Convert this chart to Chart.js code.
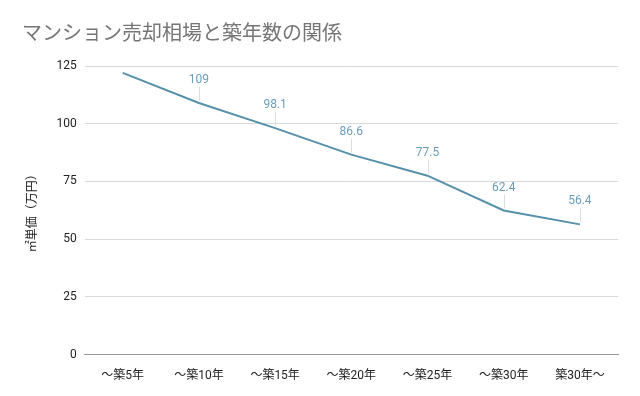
<!DOCTYPE html>
<html>
<head>
<meta charset="utf-8">
<script src="https://cdn.jsdelivr.net/npm/chart.js@4"></script>
<style>
  html, body { margin: 0; padding: 0; background: #fff; }
  #wrap { width: 640px; height: 396px; }
</style>
</head>
<body>
<div id="wrap"><canvas id="chart" width="640" height="396"></canvas></div>
<script>
// データ
const categories = ['～築5年', '～築10年', '～築15年', '～築20年', '～築25年', '～築30年', '築30年～'];
const unitPrices = [122, 109, 98.1, 86.6, 77.5, 62.4, 56.4];
const shownLabels = [null, '109', '98.1', '86.6', '77.5', '62.4', '56.4'];
const yTicks = [0, 25, 50, 75, 100, 125];

const FONT = "'Roboto', 'Noto Sans CJK JP', sans-serif";
const LINE_COLOR = '#5790ab';

// 値ラベルと引き出し線
const valueLabels = {
    id: 'valueLabels',
    afterDatasetsDraw(chart) {
        const ctx = chart.ctx;
        const meta = chart.getDatasetMeta(0);
        ctx.save();
        meta.data.forEach((pt, i) => {
            const text = shownLabels[i];
            if (!text) return;
            ctx.strokeStyle = '#dddddd';
            ctx.lineWidth = 1;
            ctx.beginPath();
            ctx.moveTo(Math.round(pt.x) + 0.5, pt.y - 2);
            ctx.lineTo(Math.round(pt.x) + 0.5, pt.y - 16);
            ctx.stroke();
            ctx.fillStyle = '#6a9cba';
            ctx.font = '12px ' + FONT;
            ctx.textAlign = 'center';
            ctx.textBaseline = 'alphabetic';
            ctx.fillText(text, pt.x, pt.y - 20);
        });
        ctx.restore();
    }
};

new Chart(document.getElementById('chart'), {
    type: 'line',
    data: {
        labels: categories,
        datasets: [{
            data: unitPrices,
            borderColor: LINE_COLOR,
            borderWidth: 2,
            pointRadius: 0,
            tension: 0,
            fill: false
        }]
    },
    options: {
        responsive: false,
        animation: false,
        layout: { padding: { left: 22, right: 22, top: 0, bottom: 7 } },
        plugins: {
            legend: { display: false },
            tooltip: { enabled: false },
            title: {
                display: true,
                text: 'マンション売却相場と築年数の関係',
                align: 'start',
                color: '#757575',
                font: { family: FONT, size: 20, weight: 'normal' },
                padding: { top: 23, bottom: 19 }
            }
        },
        scales: {
            x: {
                offset: true,
                grid: { display: false },
                border: { color: '#999999', width: 1 },
                ticks: {
                    color: '#222',
                    font: { family: FONT, size: 12 },
                    maxRotation: 0,
                    padding: 6
                }
            },
            y: {
                min: 0,
                max: 125,
                afterBuildTicks(axis) {
                    axis.ticks = yTicks.map(v => ({ value: v }));
                },
                grid: {
                    color: ctx => ctx.tick && ctx.tick.value === 0 ? '#999999' : '#d9d9d9',
                    drawTicks: false
                },
                border: { display: false },
                ticks: {
                    color: '#222',
                    font: { family: FONT, size: 12 },
                    padding: 8
                },
                title: {
                    display: true,
                    text: '㎡単価（万円）',
                    color: '#222',
                    font: { family: FONT, size: 12 },
                    padding: { bottom: 8 }
                }
            }
        }
    },
    plugins: [valueLabels]
});
</script>
</body>
</html>
